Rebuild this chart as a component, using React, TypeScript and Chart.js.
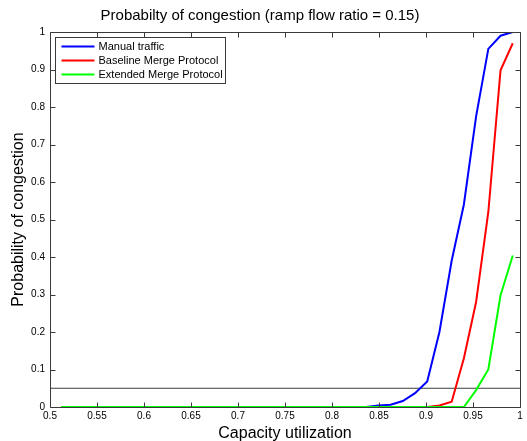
import React, { useEffect, useRef } from "react";
import { Chart, registerables } from "chart.js";

Chart.register(...registerables);

const titleText = "Probabilty of congestion (ramp flow ratio = 0.15)";
const xAxisTitle = "Capacity utilization";
const yAxisTitle = "Probability of congestion";

const seriesNames = ["Manual traffic", "Baseline Merge Protocol", "Extended Merge Protocol"];
const seriesColors = ["#0000ff", "#ff0000", "#00ff00"];

const manualX = [0.512, 0.8363, 0.8493, 0.8623, 0.8753, 0.8883, 0.9013, 0.9143, 0.9273, 0.9403, 0.9533, 0.9663, 0.9793, 0.9923];
const manualY = [0, 0, 0.004, 0.006, 0.016, 0.037, 0.068, 0.2, 0.39, 0.54, 0.775, 0.955, 0.99, 1.0];

const baselineX = [0.512, 0.9013, 0.9143, 0.9273, 0.9403, 0.9533, 0.9663, 0.9793, 0.9923];
const baselineY = [0, 0, 0.004, 0.014, 0.13, 0.28, 0.52, 0.898, 0.97];

const extendedX = [0.512, 0.9403, 0.9533, 0.9663, 0.9793, 0.9923];
const extendedY = [0, 0, 0.045, 0.1, 0.298, 0.404];

const thresholdX = [0.5, 1];
const thresholdY = [0.05, 0.05];

const xTicks = [0.5, 0.55, 0.6, 0.65, 0.7, 0.75, 0.8, 0.85, 0.9, 0.95, 1];
const xTickLabels = ["0.5", "0.55", "0.6", "0.65", "0.7", "0.75", "0.8", "0.85", "0.9", "0.95", "1"];
const yTicks = [0, 0.1, 0.2, 0.3, 0.4, 0.5, 0.6, 0.7, 0.8, 0.9, 1];
const yTickLabels = ["0", "0.1", "0.2", "0.3", "0.4", "0.5", "0.6", "0.7", "0.8", "0.9", "1"];

const FONT = "'Liberation Sans', Arial, Helvetica, sans-serif";

const toPoints = (xs: number[], ys: number[]) => xs.map((x, i) => ({ x, y: ys[i] }));

const framePlugin = {
  id: "matlabFrame",
  afterDatasetsDraw(chart: any) {
    const { ctx, chartArea, scales } = chart;
    const { left, right, top, bottom } = chartArea;
    ctx.save();
    ctx.strokeStyle = "#3a3a3a";
    ctx.lineWidth = 1;
    const l = Math.round(left) + 0.5;
    const r = Math.round(right) + 0.5;
    const t = Math.round(top) + 0.5;
    const b = Math.round(bottom) + 0.5;
    ctx.beginPath();
    ctx.rect(l, t, r - l, b - t);
    ctx.stroke();
    const tl = 5;
    ctx.beginPath();
    scales.x.ticks.forEach((tk: any) => {
      const px = Math.round(scales.x.getPixelForValue(tk.value)) + 0.5;
      ctx.moveTo(px, b);
      ctx.lineTo(px, b - tl);
      ctx.moveTo(px, t);
      ctx.lineTo(px, t + tl);
    });
    scales.y.ticks.forEach((tk: any) => {
      const py = Math.round(scales.y.getPixelForValue(tk.value)) + 0.5;
      ctx.moveTo(l, py);
      ctx.lineTo(l + tl, py);
      ctx.moveTo(r, py);
      ctx.lineTo(r - tl, py);
    });
    ctx.stroke();

    // legend box
    const bx = l + 5;
    const by = t + 5;
    const bw = 170;
    const bh = 46;
    ctx.fillStyle = "#ffffff";
    ctx.fillRect(bx, by, bw, bh);
    ctx.strokeStyle = "#3a3a3a";
    ctx.lineWidth = 1;
    ctx.strokeRect(bx, by, bw, bh);
    ctx.font = `11px ${FONT}`;
    ctx.textBaseline = "middle";
    ctx.textAlign = "left";
    seriesNames.forEach((name, i) => {
      const y = by + 9 + i * 14;
      ctx.strokeStyle = seriesColors[i];
      ctx.lineWidth = 2;
      ctx.beginPath();
      ctx.moveTo(bx + 6, y);
      ctx.lineTo(bx + 39, y);
      ctx.stroke();
      ctx.fillStyle = "#000000";
      ctx.fillText(name, bx + 43, y + 0.5);
    });
    ctx.restore();
  },
};

export default function App() {
  const canvasRef = useRef<HTMLCanvasElement | null>(null);

  useEffect(() => {
    if (!canvasRef.current) return;
    const chart = new Chart(canvasRef.current, {
      type: "line",
      data: {
        datasets: [
          {
            label: seriesNames[2],
            data: toPoints(extendedX, extendedY),
            borderColor: seriesColors[2],
            borderWidth: 2,
            pointRadius: 0,
            fill: false,
            order: 0,
          },
          {
            label: seriesNames[1],
            data: toPoints(baselineX, baselineY),
            borderColor: seriesColors[1],
            borderWidth: 2,
            pointRadius: 0,
            fill: false,
            order: 1,
          },
          {
            label: seriesNames[0],
            data: toPoints(manualX, manualY),
            borderColor: seriesColors[0],
            borderWidth: 2,
            pointRadius: 0,
            fill: false,
            order: 2,
          },
          {
            label: "threshold",
            data: toPoints(thresholdX, thresholdY),
            borderColor: "#3c3c3c",
            borderWidth: 1,
            pointRadius: 0,
            fill: false,
            order: 3,
          },
        ],
      },
      options: {
        responsive: false,
        animation: false,
        devicePixelRatio: 1,
        layout: { padding: { left: 0, right: 7, top: 0, bottom: 0 } },
        plugins: {
          legend: { display: false },
          tooltip: { enabled: false },
          title: {
            display: true,
            text: titleText,
            color: "#000",
            font: { family: FONT, size: 15, weight: "normal" },
            padding: { top: 7, bottom: 7 },
          },
        },
        scales: {
          x: {
            type: "linear",
            min: 0.5,
            max: 1,
            afterBuildTicks: (s: any) => {
              s.ticks = xTicks.map((v) => ({ value: v }));
            },
            afterFit: (s: any) => {
              s.height = 34;
            },
            ticks: {
              callback: (_v: any, i: number) => xTickLabels[i],
              color: "#000",
              font: { family: FONT, size: 10 },
              padding: 3,
              maxRotation: 0,
              autoSkip: false,
            },
            grid: { display: false, drawTicks: false },
            border: { display: false },
            title: {
              display: true,
              text: xAxisTitle,
              color: "#000",
              font: { family: FONT, size: 16 },
              padding: { top: 0, bottom: -2 },
            },
          },
          y: {
            type: "linear",
            min: 0,
            max: 1,
            afterBuildTicks: (s: any) => {
              s.ticks = yTicks.map((v) => ({ value: v }));
            },
            afterFit: (s: any) => {
              s.width = 50;
            },
            ticks: {
              callback: (_v: any, i: number) => yTickLabels[i],
              color: "#000",
              font: { family: FONT, size: 10 },
              padding: 5,
              autoSkip: false,
            },
            grid: { display: false, drawTicks: false },
            border: { display: false },
            title: {
              display: true,
              text: yAxisTitle,
              color: "#000",
              font: { family: FONT, size: 16 },
              padding: { top: 9, bottom: 0 },
            },
          },
        },
      },
      plugins: [framePlugin],
    } as any);
    return () => chart.destroy();
  }, []);

  return (
    <div style={{ position: "absolute", left: 0, top: 0, width: 527, height: 441, background: "#fff" }}>
      <canvas ref={canvasRef} width={527} height={441} style={{ display: "block", width: 527, height: 441 }} />
    </div>
  );
}
